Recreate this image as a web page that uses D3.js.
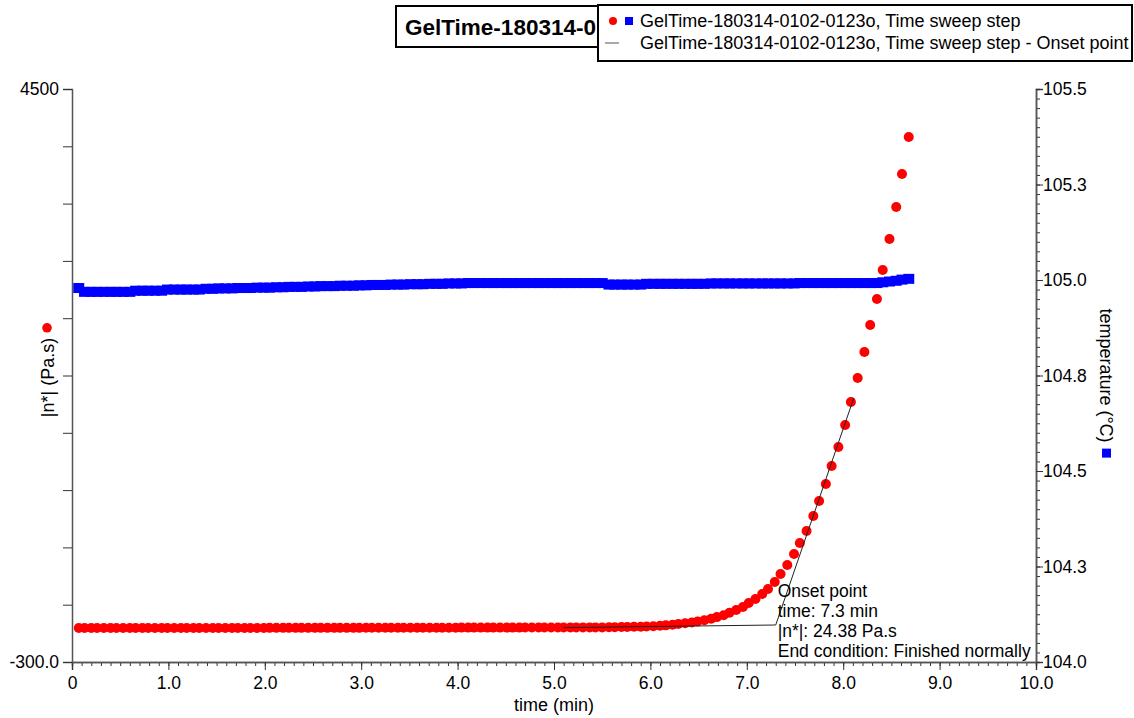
<!DOCTYPE html>
<html>
<head>
<meta charset="utf-8">
<script src="https://cdn.jsdelivr.net/npm/d3@7"></script>
<style>
  body { margin: 0; background: #fff; }
  svg { font-family: "Liberation Sans", Arial, sans-serif; }
</style>
</head>
<body>
<svg id="chart" width="1134" height="718"></svg>
<script>
// time sweep, one sample about every 4 s (min)
var times = [
    0.07, 0.13, 0.20, 0.26, 0.33, 0.40, 0.46, 0.53, 0.60, 0.66, 0.73, 0.79, 0.86, 0.93, 0.99,
    1.06, 1.13, 1.19, 1.26, 1.32, 1.39, 1.46, 1.52, 1.59, 1.66, 1.72, 1.79, 1.85, 1.92, 1.99,
    2.05, 2.12, 2.19, 2.25, 2.32, 2.38, 2.45, 2.52, 2.58, 2.65, 2.72, 2.78, 2.85, 2.92, 2.98,
    3.05, 3.11, 3.18, 3.25, 3.31, 3.38, 3.44, 3.51, 3.58, 3.64, 3.71, 3.78, 3.84, 3.91, 3.98,
    4.04, 4.11, 4.17, 4.24, 4.31, 4.37, 4.44, 4.51, 4.57, 4.64, 4.70, 4.77, 4.84, 4.90, 4.97,
    5.04, 5.10, 5.17, 5.23, 5.30, 5.37, 5.43, 5.50, 5.57, 5.63, 5.70, 5.76, 5.83, 5.90, 5.96,
    6.03, 6.10, 6.16, 6.23, 6.29, 6.36, 6.43, 6.49, 6.56, 6.63, 6.69, 6.76, 6.82, 6.89, 6.96,
    7.02, 7.09, 7.16, 7.22, 7.29, 7.35, 7.42, 7.49, 7.55, 7.62, 7.69, 7.75, 7.82, 7.88, 7.95,
    8.02, 8.08, 8.15, 8.22, 8.28, 8.35, 8.41, 8.48, 8.55, 8.61, 8.68
];
// |n*| (Pa.s)
var viscosity = [
    -15, -15, -15, -15, -15, -15, -15, -15, -15, -15, -15, -15, -15, -15, -15,
    -15, -15, -15, -15, -15, -15, -15, -15, -15, -15, -15, -15, -15, -15, -15,
    -14, -14, -14, -14, -14, -14, -14, -14, -14, -14, -14, -14, -14, -14, -14,
    -13, -13, -13, -13, -13, -13, -13, -13, -13, -13, -13, -13, -13, -13, -13,
    -12, -12, -12, -12, -12, -12, -12, -12, -12, -12, -11, -11, -11, -11, -11,
    -11, -11, -11, -10, -10, -10, -10, -10, -9, -8, -7, -6, -5, -4, -2,
    0, 3, 7, 12, 18, 24, 31, 40, 50, 62, 76, 92, 112, 136, 161,
    194, 228, 270, 312, 370, 437, 513, 605, 697, 797, 923, 1049, 1191, 1342, 1501,
    1685, 1878, 2079, 2297, 2523, 2741, 2984, 3243, 3512, 3788, 4098
];
// temperature (°C)
var temperature = [
    104.979, 104.969, 104.969, 104.969, 104.969, 104.969, 104.969, 104.969, 104.969, 104.972,
    104.972, 104.972, 104.972, 104.972, 104.975, 104.975, 104.975, 104.975, 104.975, 104.975,
    104.977, 104.977, 104.978, 104.978, 104.978, 104.979, 104.979, 104.979, 104.980, 104.980,
    104.980, 104.981, 104.981, 104.982, 104.982, 104.982, 104.983, 104.983, 104.984, 104.984,
    104.984, 104.985, 104.985, 104.985, 104.986, 104.986, 104.987, 104.987, 104.987, 104.988,
    104.988, 104.988, 104.989, 104.989, 104.989, 104.990, 104.990, 104.990, 104.991, 104.991,
    104.991, 104.992, 104.992, 104.992, 104.992, 104.992, 104.992, 104.992, 104.992, 104.992,
    104.992, 104.992, 104.992, 104.992, 104.992, 104.992, 104.992, 104.992, 104.992, 104.992,
    104.992, 104.992, 104.992, 104.988, 104.988, 104.988, 104.988, 104.988, 104.988, 104.990,
    104.990, 104.990, 104.990, 104.990, 104.990, 104.990, 104.990, 104.990, 104.990, 104.991,
    104.991, 104.991, 104.991, 104.991, 104.991, 104.991, 104.991, 104.991, 104.991, 104.991,
    104.991, 104.991, 104.991, 104.992, 104.992, 104.992, 104.992, 104.992, 104.992, 104.992,
    104.992, 104.992, 104.992, 104.992, 104.992, 104.992, 104.994, 104.996, 104.998, 105.001,
    105.003
];

// onset analysis: baseline tangent and steep tangent
var baseTangent = [{t: 5.1, v: -12}, {t: 7.3, v: 10}];
var steepTangent = [{t: 7.3, v: 10}, {t: 8.11, v: 1912}];
var onsetLines = ["Onset point", "time: 7.3 min", "|n*|: 24.38 Pa.s", "End condition: Finished normally"];

var xTicks = [0, 1, 2, 3, 4, 5, 6, 7, 8, 9, 10];
var xTickLabels = ["0", "1.0", "2.0", "3.0", "4.0", "5.0", "6.0", "7.0", "8.0", "9.0", "10.0"];
var yLeftTicks = [-300, 180, 660, 1140, 1620, 2100, 2580, 3060, 3540, 4020, 4500];
var yLeftTickLabels = {"-300": "-300.0", "4500": "4500"};
var yRightTicks = [104.0, 104.25, 104.5, 104.75, 105.0, 105.25, 105.5];
var yRightTickLabels = ["104.0", "104.3", "104.5", "104.8", "105.0", "105.3", "105.5"];

var titleText = "GelTime-180314-0102-0123o";
var legendText = ["GelTime-180314-0102-0123o, Time sweep step",
                  "GelTime-180314-0102-0123o, Time sweep step - Onset point"];

var svg = d3.select("#chart");
var plotLeft = 72, plotRight = 1036, plotTop = 89, plotBottom = 662;

var x = d3.scaleLinear().domain([0, 10]).range([plotLeft, plotRight]);
var yL = d3.scaleLinear().domain([-300, 4500]).range([plotBottom, plotTop]);
var yR = d3.scaleLinear().domain([104, 105.5]).range([plotBottom, plotTop]);

var points = times.map(function(t, i) {
    return {t: t, v: viscosity[i], temp: temperature[i]};
});

// ---- axes ----
function styleAxis(g) {
    g.select(".domain").attr("stroke", "#555").attr("stroke-width", 1.5);
    g.selectAll(".tick line").attr("stroke", "#333");
    g.selectAll("text").attr("fill", "#000").style("font-size", "17.5px")
        .style("font-family", "'Liberation Sans', Arial, sans-serif");
}

// bottom minor ticks
svg.append("g")
    .attr("transform", "translate(0," + plotBottom + ")")
    .call(d3.axisBottom(x).tickValues(d3.range(0, 100.5, 1).map(function(d) { return d / 10; }))
        .tickSize(4).tickFormat(""))
    .call(styleAxis);
svg.append("g")
    .attr("transform", "translate(0," + plotBottom + ")")
    .call(d3.axisBottom(x).tickValues(xTicks).tickSize(8).tickPadding(7)
        .tickFormat(function(d, i) { return xTickLabels[i]; }))
    .call(styleAxis);

svg.append("g")
    .attr("transform", "translate(" + plotLeft + ",0)")
    .call(d3.axisLeft(yL).tickValues(yLeftTicks).tickSize(9).tickPadding(4)
        .tickFormat(function(d) { return yLeftTickLabels[d] || ""; }))
    .call(styleAxis);

// right minor ticks
svg.append("g")
    .attr("transform", "translate(" + plotRight + ",0)")
    .call(d3.axisRight(yR).tickValues(d3.range(0, 60.5, 1).map(function(d) { return 104 + d * 0.025; }))
        .tickSize(4).tickFormat(""))
    .call(styleAxis);
svg.append("g")
    .attr("transform", "translate(" + plotRight + ",0)")
    .call(d3.axisRight(yR).tickValues(yRightTicks).tickSize(7).tickPadding(0)
        .tickFormat(function(d, i) { return yRightTickLabels[i]; }))
    .call(styleAxis);

// axis titles
svg.append("text")
    .attr("x", (plotLeft + plotRight) / 2).attr("y", 711)
    .attr("text-anchor", "middle").style("font-size", "18px")
    .text("time (min)");

var midY = (plotTop + plotBottom) / 2;
var lt = svg.append("text")
    .attr("transform", "translate(54," + (midY + 2) + ") rotate(-90)")
    .attr("text-anchor", "middle").style("font-size", "18px")
    .text("|n*| (Pa.s)");
var ltLen = lt.node().getComputedTextLength();
svg.append("circle")
    .attr("cx", 47).attr("cy", midY + 2 - ltLen / 2 - 10).attr("r", 4.8)
    .attr("fill", "#ff0000");

var rt = svg.append("text")
    .attr("transform", "translate(1100," + midY + ") rotate(90)")
    .attr("text-anchor", "middle").style("font-size", "18px")
    .text("temperature (°C)");
var rtLen = rt.node().getComputedTextLength();
svg.append("rect")
    .attr("x", 1102).attr("y", midY + rtLen / 2 + 6).attr("width", 9).attr("height", 9)
    .attr("fill", "#0000ff");

// ---- data ----
svg.append("g").selectAll("rect").data(points).enter()
    .append("rect")
    .attr("x", function(d) { return x(d.t) - 5.5; })
    .attr("y", function(d) { return yR(d.temp) - 5; })
    .attr("width", 11).attr("height", 10)
    .attr("fill", "#0000ff");

svg.append("g").selectAll("circle").data(points).enter()
    .append("circle")
    .attr("cx", function(d) { return x(d.t); })
    .attr("cy", function(d) { return yL(d.v); })
    .attr("r", 5)
    .attr("fill", "#ff0000");

var line = d3.line().x(function(d) { return x(d.t); }).y(function(d) { return yL(d.v); });
svg.append("path").attr("d", line(baseTangent))
    .attr("fill", "none").attr("stroke", "#222").attr("stroke-width", 1);
svg.append("path").attr("d", line(steepTangent))
    .attr("fill", "none").attr("stroke", "#222").attr("stroke-width", 1);

svg.append("g").selectAll("text").data(onsetLines).enter()
    .append("text")
    .attr("x", x(7.3) + 2)
    .attr("y", function(d, i) { return 597 + i * 20; })
    .style("font-size", "17.5px")
    .text(function(d) { return d; });

// ---- title and legend ----
svg.append("clipPath").attr("id", "titleClip")
    .append("rect").attr("x", 396).attr("y", 6).attr("width", 201).attr("height", 41);
svg.append("rect").attr("x", 396).attr("y", 6).attr("width", 260).attr("height", 41)
    .attr("fill", "#fff").attr("stroke", "#000").attr("stroke-width", 2);
svg.append("text").attr("x", 405).attr("y", 35)
    .attr("clip-path", "url(#titleClip)")
    .style("font-size", "22.5px").style("font-weight", "bold")
    .text(titleText);

svg.append("rect").attr("x", 598).attr("y", 5).attr("width", 534).attr("height", 56)
    .attr("fill", "#fff").attr("stroke", "#000").attr("stroke-width", 2);
svg.append("circle").attr("cx", 613).attr("cy", 21).attr("r", 4).attr("fill", "#ff0000");
svg.append("rect").attr("x", 625).attr("y", 17).attr("width", 8).attr("height", 8).attr("fill", "#0000ff");
svg.append("line").attr("x1", 605).attr("x2", 619).attr("y1", 43).attr("y2", 43)
    .attr("stroke", "#555").attr("stroke-width", 1);
svg.append("g").selectAll("text").data(legendText).enter()
    .append("text")
    .attr("x", 640)
    .attr("y", function(d, i) { return 27 + i * 22; })
    .style("font-size", "18px")
    .text(function(d) { return d; });
</script>
</body>
</html>
